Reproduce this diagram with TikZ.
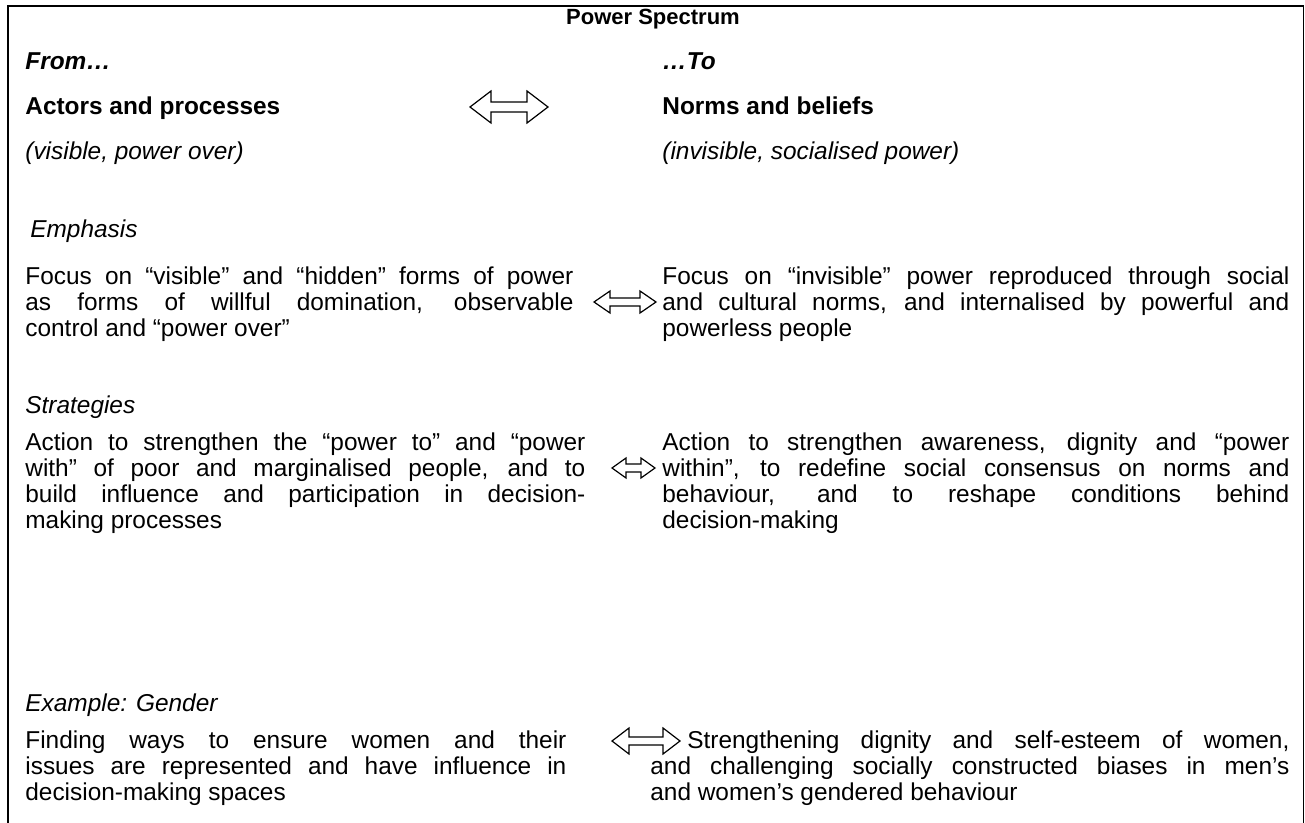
\documentclass[tikz,border=0pt]{standalone}
\usepackage{fontspec}
\setmainfont{Liberation Sans}
\newcommand{\myarrow}[7]{% name, x0, x1, yc, h, g, head length
  \draw[dbl] (#2,#4) -- (#2+#7,#4-#5) -- (#2+#7,#4-#6) -- (#3-#7,#4-#6) -- (#3-#7,#4-#5) -- (#3,#4)
    -- (#3-#7,#4+#5) -- (#3-#7,#4+#6) -- (#2+#7,#4+#6) -- (#2+#7,#4+#5) -- cycle;
  \coordinate (#1) at ({(#2+#3)/2},#4);}
\begin{document}
\begin{tikzpicture}[x=0.5pt,y=-0.5pt,
  txt/.style={inner sep=0pt, font=\fontsize{12.2}{13}\selectfont},
  lbl/.style={txt, anchor=base west},
  ttl/.style={inner sep=0pt, anchor=base, font=\fontsize{11}{13}\selectfont\bfseries},
  para/.style={txt, anchor=north west, align=justify,
    execute at begin node={\hyphenpenalty=10000\tolerance=10000\strut}},
  dbl/.style={line width=0.6pt, line join=miter}]
\useasboundingbox (0,0) rectangle (1305,823);
% frame (open at the bottom)
\draw[line width=1pt] (7.5,823) -- (7.5,6.5) -- (1303.5,6.5);
\draw[line width=0.6pt] (1303.5,6.5) -- (1303.5,823);

\node[ttl] (title) at (653,25) {Power Spectrum};
\node[lbl] (from) at (25,70) {\bfseries\itshape From…};
\node[lbl] (to) at (662,70) {\bfseries\itshape …To};
\node[lbl] (actors) at (25,115) {\bfseries Actors and processes};
\node[lbl] (norms) at (662,115) {\bfseries Norms and beliefs};
\node[lbl] (vis) at (25,160) {\itshape (visible, power over)};
\node[lbl] (invis) at (662,160) {\itshape (invisible, socialised power)};
\myarrow{a1}{470}{548}{107}{16}{5}{21}

\node[lbl] (emph) at (30,238) {\itshape Emphasis};
\node[para, text width=274pt] (emphL) at (25,265.8) {Focus on “visible” and “hidden” forms of power\linebreak as forms of willful domination, observable\linebreak control and “power over”};
\node[para, text width=313.5pt] (emphR) at (662,265.8) {Focus on “invisible” power reproduced through social\linebreak and cultural norms, and internalised by powerful and\linebreak powerless people};
\myarrow{a2}{594}{656}{302}{11}{4}{16}

\node[lbl] (strat) at (25,413) {\itshape Strategies};
\node[para, text width=280pt] (stratL) at (25,431.8) {Action to strengthen the “power to” and “power\linebreak with” of poor and marginalised people, and to\linebreak build influence and participation in decision-\linebreak making processes};
\node[para, text width=313.5pt] (stratR) at (662,431.8) {Action to strengthen awareness, dignity and “power\linebreak within”, to redefine social consensus on norms and\linebreak behaviour, and to reshape conditions behind\linebreak decision-making};
\myarrow{a3}{612}{655}{468}{10}{4}{14}

\node[lbl] (gender) at (25,711) {\itshape Example: Gender};
\node[para, text width=270.5pt] (genL) at (25,729.8) {Finding ways to ensure women and their\linebreak issues are represented and have influence in\linebreak decision-making spaces};
\node[para, text width=319.5pt] (genR) at (650,729.8) {\hspace*{18.5pt}Strengthening dignity and self-esteem of women,\linebreak and challenging socially constructed biases in men’s\linebreak and women’s gendered behaviour};
\myarrow{a4}{612}{680}{741}{13}{4}{17}
\end{tikzpicture}
\end{document}
